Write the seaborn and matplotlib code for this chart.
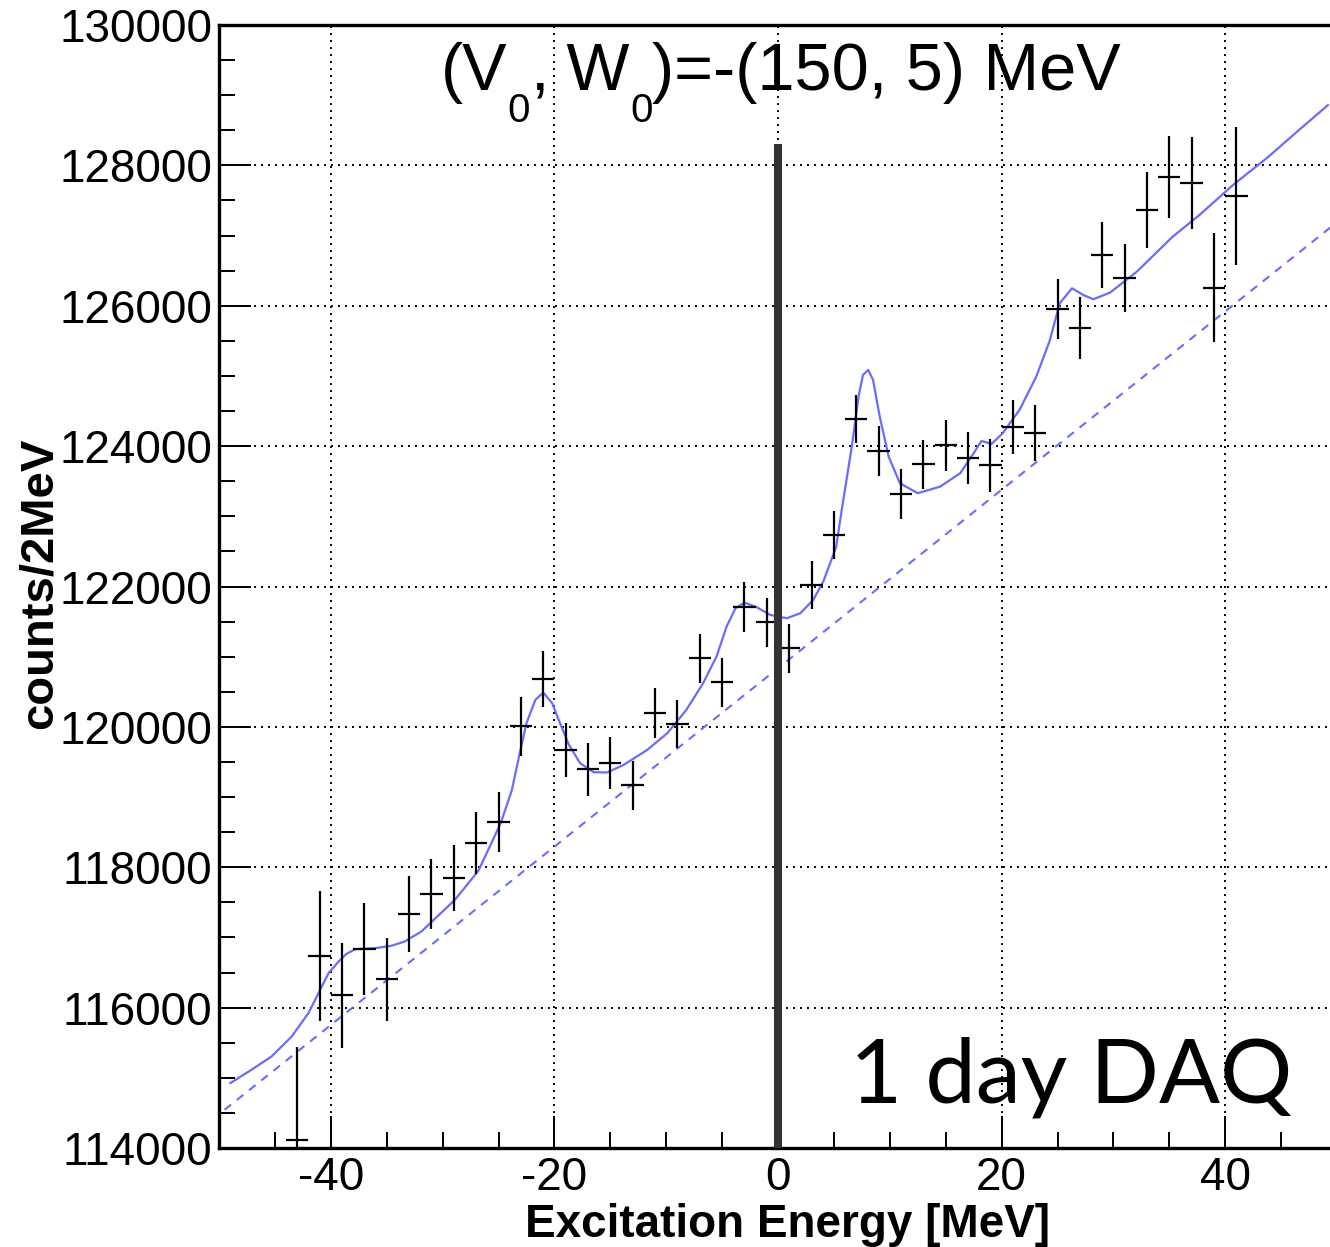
import matplotlib
matplotlib.use("Agg")
import matplotlib.pyplot as plt
from matplotlib.ticker import MultipleLocator, FuncFormatter
import pandas as pd
import seaborn as sns

# Measured spectrum: 2 MeV bins, bin centres in MeV
energy = [-43, -41, -39, -37, -35, -33, -31, -29, -27, -25, -23, -21, -19, -17,
          -15, -13, -11, -9, -7, -5, -3, -1, 1, 3, 5, 7, 9, 11, 13, 15, 17, 19,
          21, 23, 25, 27, 29, 31, 33, 35, 37, 39, 41]
counts = [114111, 116733, 116177, 116833, 116405, 117332, 117617, 117845,
          118348, 118647, 120011, 120680, 119669, 119398, 119483, 119170,
          120197, 120039, 120980, 120638, 121707, 121493, 121122, 122027,
          122733, 124386, 123930, 123317, 123744, 124015, 123830, 123730,
          124271, 124186, 125953, 125683, 126722, 126394, 127364, 127834,
          127748, 126255, 127563]
count_err = [1330, 930, 750, 660, 590, 540, 500, 470, 440, 425, 420, 400, 390,
             378, 370, 350, 356, 342, 350, 350, 350, 350, 350, 342, 342, 342,
             350, 350, 350, 363, 370, 378, 385, 400, 430, 435, 470, 490, 535,
             585, 655, 775, 985]
bin_half_width = 1.0

# Calculated spectrum (signal + background)
fit_energy = [-49.0, -47.1, -45.3, -43.5, -42.0, -41.1, -40.2, -39.3, -38.6,
              -37.8, -36.0, -34.6, -33.4, -31.9, -28.9, -26.8, -24.8, -23.8,
              -23.1, -22.5, -21.7, -21.0, -20.2, -19.5, -18.7, -17.7, -16.5,
              -15.3, -13.8, -11.7, -9.9, -8.2, -6.7, -5.5, -4.6, -3.8, -3.0,
              -1.9, -0.7, 0.8, 2.0, 3.15, 4.05, 5.2, 5.7, 6.6, 7.2, 7.6, 8.07,
              8.5, 9.1, 9.9, 10.9, 12.5, 14.5, 16.3, 17.5, 18.2, 19.1, 20.1,
              21.6, 23.1, 24.3, 25.2, 26.3, 27.3, 28.2, 29.7, 32.1, 35.3, 37.7,
              40.7, 43.7, 46.6, 49.2]
fit_counts = [114924, 115114, 115304, 115588, 115922, 116207, 116492, 116657,
              116766, 116833, 116848, 116880, 116942, 117084, 117536, 117950,
              118628, 119103, 119625, 120053, 120385, 120489, 120338, 120053,
              119744, 119483, 119355, 119350, 119459, 119672, 119910, 120242,
              120622, 121002, 121429, 121691, 121771, 121705, 121595, 121548,
              121620, 121809, 122070, 122560, 123091, 123993, 124705, 125014,
              125086, 124943, 124420, 123850, 123472, 123329, 123423, 123614,
              123899, 124074, 124031, 124184, 124516, 124990, 125500, 126036,
              126249, 126154, 126093, 126187, 126486, 126984, 127293, 127721,
              128101, 128504, 128860]

# Linear background
bkg_energy = [-49.5, 50.0]
bkg_counts = [114545, 127190]

# Threshold marker at zero excitation energy
threshold_energy = 0.0
threshold_top = 128300

sns.set_theme(style="ticks")
plt.rcParams["font.family"] = ["Liberation Sans", "DejaVu Sans"]
for key in ["text.color", "axes.labelcolor", "xtick.color", "ytick.color",
            "axes.edgecolor"]:
    plt.rcParams[key] = "black"

W, H = 1330, 1247
fig = plt.figure(figsize=(W / 100, H / 100), dpi=100)
fig.patch.set_facecolor("white")
ax = fig.add_axes([219 / W, 1 - 1148 / H, 1118 / W, 1123 / H])
ax.set_facecolor("white")

fit_df = pd.DataFrame({"E": fit_energy, "N": fit_counts})
bkg_df = pd.DataFrame({"E": bkg_energy, "N": bkg_counts})

line_blue = "#6b6bff"
sns.lineplot(data=bkg_df, x="E", y="N", ax=ax, color=line_blue, lw=1.5,
             linestyle=(0, (4, 3.5)), zorder=3)
sns.lineplot(data=fit_df, x="E", y="N", ax=ax, color=line_blue, lw=1.6,
             zorder=4)

ax.errorbar(energy, counts, yerr=count_err, xerr=bin_half_width, fmt="none",
            ecolor="black", elinewidth=1.6, capsize=0, zorder=5)

ax.vlines(threshold_energy, 114000, threshold_top, color="#333333",
          lw=5.8, zorder=6)

ax.set_xlim(-50, 50)
ax.set_ylim(114000, 130000)

ax.xaxis.set_major_locator(MultipleLocator(20))
ax.xaxis.set_minor_locator(MultipleLocator(5))
ax.yaxis.set_major_locator(MultipleLocator(2000))
ax.yaxis.set_minor_locator(MultipleLocator(500))
ax.yaxis.set_major_formatter(FuncFormatter(lambda v, p: f"{int(round(v))}"))
ax.xaxis.set_major_formatter(FuncFormatter(lambda v, p: f"{int(round(v))}"))

ax.tick_params(which="both", direction="in", colors="black", width=1.4,
               top=False, right=False)
ax.tick_params(which="major", length=23)
ax.tick_params(which="minor", length=11.5)
ax.tick_params(axis="y", which="major", labelsize=33, pad=5)
ax.tick_params(axis="x", which="major", labelsize=33, pad=6)

ax.grid(which="major", color="black", linestyle=(0, (1, 2.6)), linewidth=1.4)
ax.set_axisbelow(True)

for side in ["left", "bottom", "top"]:
    ax.spines[side].set_color("black")
    ax.spines[side].set_linewidth(2.4)
ax.spines["right"].set_visible(False)

ax.set_xlabel("Excitation Energy [MeV]", fontsize=33, fontweight="bold",
              color="black")
ax.set_ylabel("counts/2MeV", fontsize=34, fontweight="bold", color="black")
ax.yaxis.set_label_coords(-(219 - 40) / 1118, 0.503)
ax.xaxis.set_label_coords((788 - 219) / 1118, -(1225 - 1148) / 1123)
ax.xaxis.label.set_va("center")
ax.yaxis.label.set_va("center")

# Header with ROOT-style lowered subscripts, laid out piece by piece
renderer = fig.canvas.get_renderer()
main_size, sub_size = 48, 29
main_base, sub_base = 90, 122          # baselines, pixels from the top
pieces = [("(V", main_size, main_base), ("0", sub_size, sub_base),
          (",", main_size, main_base), (" W", main_size, main_base),
          ("0", sub_size, sub_base), (")=-(150, 5) MeV", main_size, main_base)]
widths = []
for s, size, _ in pieces:
    probe = fig.text(0, 0, s, fontsize=size)
    widths.append(probe.get_window_extent(renderer).width)
    probe.remove()
x_px = 781 - sum(widths) / 2
for (s, size, base), w in zip(pieces, widths):
    fig.text(x_px / W, 1 - base / H, s, fontsize=size, ha="left",
             va="baseline", color="black", zorder=7)
    x_px += w

ax.text((850 - 219) / 1118, (1148 - 1103) / 1123, "1 day DAQ",
        transform=ax.transAxes, ha="left", va="baseline", fontsize=65,
        family=["Lato", "DejaVu Sans"], color="black", zorder=7)

fig.savefig("out.png", dpi=100, facecolor="white")
